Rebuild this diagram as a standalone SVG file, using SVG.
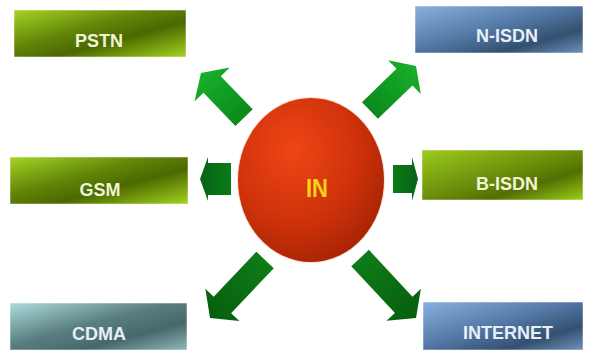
<svg xmlns="http://www.w3.org/2000/svg" width="590" height="351" viewBox="0 0 590 351">
  <defs>
    <style>
      .lbl { font-family: "Liberation Sans", Arial, sans-serif; font-weight: bold; font-size: 18px; text-anchor: middle; }
      .lg { fill: #eef4d6; }
      .lb { fill: #e6eef8; }
      .box { stroke: #ffffff; stroke-opacity: 0.5; stroke-width: 1; }
    </style>
    <!-- olive / yellow-green box fill -->
    <linearGradient id="gGreen" x1="0" y1="0" x2="1" y2="1">
      <stop offset="0" stop-color="#a6d424"/>
      <stop offset="0.4" stop-color="#628508"/>
      <stop offset="0.62" stop-color="#4c6800"/>
      <stop offset="1" stop-color="#a2d41e"/>
    </linearGradient>
    <linearGradient id="gGreen2" x1="0" y1="0" x2="1" y2="1">
      <stop offset="0" stop-color="#9ccc1c"/>
      <stop offset="0.5" stop-color="#6a8c0a"/>
      <stop offset="0.7" stop-color="#526f02"/>
      <stop offset="1" stop-color="#9ccf1a"/>
    </linearGradient>
    <!-- steel blue box fill -->
    <linearGradient id="gBlue" x1="0" y1="0" x2="1" y2="1">
      <stop offset="0" stop-color="#88b0de"/>
      <stop offset="0.45" stop-color="#557aa8"/>
      <stop offset="0.75" stop-color="#33506f"/>
      <stop offset="1" stop-color="#6d92bc"/>
    </linearGradient>
    <!-- grey-teal box fill -->
    <linearGradient id="gTeal" x1="0" y1="0" x2="1" y2="1">
      <stop offset="0" stop-color="#acdcdc"/>
      <stop offset="0.45" stop-color="#5a7e80"/>
      <stop offset="0.7" stop-color="#46686a"/>
      <stop offset="1" stop-color="#8fb6b6"/>
    </linearGradient>
    <!-- centre sphere -->
    <radialGradient id="gRed" cx="0.38" cy="0.32" r="0.72">
      <stop offset="0" stop-color="#ee4616"/>
      <stop offset="0.6" stop-color="#cf320a"/>
      <stop offset="1" stop-color="#a82405"/>
    </radialGradient>
    <!-- arrow fills, running from tail (0) to tip (1) -->
    <linearGradient id="aBright" x1="0" y1="0" x2="1" y2="0">
      <stop offset="0" stop-color="#0a8a1a"/>
      <stop offset="1" stop-color="#18b02c"/>
    </linearGradient>
    <linearGradient id="aMid" x1="0" y1="0" x2="1" y2="0">
      <stop offset="0" stop-color="#0a7c16"/>
      <stop offset="1" stop-color="#07621a"/>
    </linearGradient>
    <linearGradient id="aDark" x1="0" y1="0" x2="1" y2="0">
      <stop offset="0" stop-color="#0e7c18"/>
      <stop offset="1" stop-color="#075e0e"/>
    </linearGradient>
  </defs>

  <rect width="590" height="351" fill="#ffffff"/>

  <!-- block arrows radiating from the centre; tip at local origin, pointing +x -->
  <g id="connectors">
    <polygon transform="translate(201,73) rotate(-134)" fill="url(#aBright)"
             points="-62,-12 -16,-12 -16,-24.5 0,0 -16,24.5 -16,12 -62,12"/>
    <polygon transform="translate(416,66) rotate(-44)" fill="url(#aBright)"
             points="-64,-11.5 -16,-11.5 -16,-23.5 0,0 -16,23.5 -16,11.5 -64,11.5"/>
    <polygon transform="translate(200,179) rotate(180)" fill="url(#aMid)"
             points="-31,-16 -8,-16 -8,-22 0,0 -8,22 -8,16 -31,16"/>
    <polygon transform="translate(418,179)" fill="url(#aMid)"
             points="-25,-14 -6,-14 -6,-22 0,0 -6,22 -6,14 -25,14"/>
    <polygon transform="translate(210,318) rotate(133.5)" fill="url(#aDark)"
             points="-80,-12 -18,-12 -18,-23.5 0,0 -18,23.5 -18,12 -80,12"/>
    <polygon transform="translate(416,318) rotate(47)" fill="url(#aDark)"
             points="-82,-12 -18,-12 -18,-23.5 0,0 -18,23.5 -18,12 -82,12"/>
  </g>

  <g id="in">
    <ellipse cx="311" cy="180" rx="74" ry="83" fill="#f6c8b8" opacity="0.6"/>
    <ellipse cx="311" cy="180" rx="73" ry="82" fill="url(#gRed)"/>
    <text x="317" y="197" transform="translate(317,197) scale(1,1.15) translate(-317,-197)"
          style="font-family: 'Liberation Sans', Arial, sans-serif; font-weight: bold; font-size: 22px; text-anchor: middle; fill: #f6d21a;">IN</text>
  </g>

  <g id="pstn">
    <rect class="box" x="14" y="10" width="172" height="47" fill="url(#gGreen)"/>
    <text class="lbl lg" x="99" y="47">PSTN</text>
  </g>

  <g id="gsm">
    <rect class="box" x="10" y="157" width="178" height="47" fill="url(#gGreen)"/>
    <text class="lbl lg" x="100" y="196">GSM</text>
  </g>

  <g id="cdma">
    <rect class="box" x="10" y="303" width="177" height="47" fill="url(#gTeal)"/>
    <text class="lbl lb" x="99" y="340">CDMA</text>
  </g>

  <g id="n-isdn">
    <rect class="box" x="415" y="6" width="168" height="47" fill="url(#gBlue)"/>
    <text class="lbl lb" x="507" y="42">N-ISDN</text>
  </g>

  <g id="b-isdn">
    <rect class="box" x="422" y="150" width="161" height="50" fill="url(#gGreen2)"/>
    <text class="lbl lg" x="507" y="190">B-ISDN</text>
  </g>

  <g id="internet">
    <rect class="box" x="423" y="302" width="160" height="48" fill="url(#gBlue)"/>
    <text class="lbl lb" x="508" y="339">INTERNET</text>
  </g>
</svg>
